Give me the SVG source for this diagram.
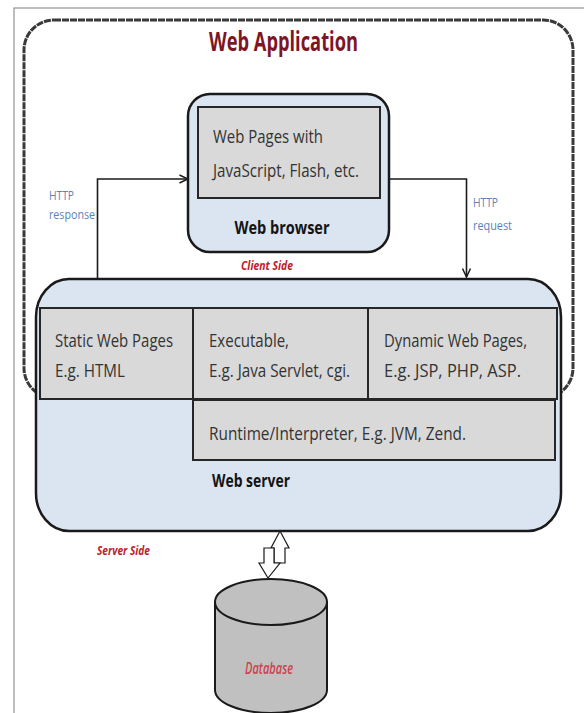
<svg xmlns="http://www.w3.org/2000/svg" width="584" height="713" viewBox="0 0 584 713">
<style>
  .t { font-family: "Open Sans", "Liberation Sans", sans-serif; }
  .cell { fill: #d9d9d9; stroke: #262626; stroke-width: 2; }
  .ctext { font-size: 19px; fill: #333333; }
  .btext { font-size: 18px; font-weight: bold; fill: #141414; }
  .http { font-size: 13px; fill: #5b82b8; }
  .side { font-size: 12.5px; font-style: italic; font-weight: bold; fill: #c0202a; }
  .conn { fill: none; stroke: #1a1a1a; stroke-width: 1.6; }
  .blk { fill: #ffffff; stroke: #1a1a1a; stroke-width: 1.2; }
</style>
<defs>
  <marker id="open" viewBox="0 0 10 10" refX="9.5" refY="5" markerWidth="10" markerHeight="10" markerUnits="userSpaceOnUse" orient="auto">
    <path d="M1,1 L9.5,5 L1,9" fill="none" stroke="#1a1a1a" stroke-width="1.5"/>
  </marker>
</defs>
<rect x="0" y="0" width="584" height="713" fill="#ffffff"/>
<rect id="page-border" x="14" y="8" width="600" height="720" fill="none" stroke="#7f7f7f" stroke-width="1"/>

<g id="web-application">
  <rect x="24" y="20" width="549" height="378" rx="30" ry="30" fill="none" stroke="#3a3a3a" stroke-width="3" stroke-dasharray="7 1"/>
  <text class="t" x="283.5" y="51" text-anchor="middle" font-size="26" font-weight="bold" fill="#7e1525" textLength="149" lengthAdjust="spacingAndGlyphs">Web Application</text>
</g>

<g id="connectors">
  <polyline class="conn" points="97.5,279 97.5,179 188,179" marker-end="url(#open)"/>
  <polyline class="conn" points="389,179 466.5,179 466.5,277" marker-end="url(#open)"/>
</g>

<g id="http-response">
  <text class="t http" x="49" y="200" textLength="25" lengthAdjust="spacingAndGlyphs">HTTP</text>
  <text class="t http" x="49" y="219" textLength="46" lengthAdjust="spacingAndGlyphs">response</text>
</g>
<g id="http-request">
  <text class="t http" x="473" y="207" textLength="25" lengthAdjust="spacingAndGlyphs">HTTP</text>
  <text class="t http" x="473" y="230" textLength="39" lengthAdjust="spacingAndGlyphs">request</text>
</g>

<g id="web-browser">
  <rect x="188" y="94" width="201" height="158" rx="22" ry="22" fill="#dbe5f1" stroke="#1a1a1a" stroke-width="2.5"/>
  <rect class="cell" x="198" y="107" width="182" height="91"/>
  <text class="t ctext" x="213" y="143" textLength="110" lengthAdjust="spacingAndGlyphs">Web Pages with</text>
  <text class="t ctext" x="213" y="177" textLength="146" lengthAdjust="spacingAndGlyphs">JavaScript, Flash, etc.</text>
  <text class="t btext" x="282" y="234" text-anchor="middle" textLength="95" lengthAdjust="spacingAndGlyphs">Web browser</text>
</g>

<g id="client-side">
  <text class="t side" x="267" y="270" text-anchor="middle" textLength="52" lengthAdjust="spacingAndGlyphs">Client Side</text>
</g>

<g id="web-server">
  <rect x="36" y="279" width="525" height="252" rx="33" ry="38" fill="#dbe5f1" stroke="#1a1a1a" stroke-width="2.5"/>
  <g id="static-pages">
    <rect class="cell" x="40" y="308" width="153" height="91"/>
    <text class="t ctext" x="55" y="347" textLength="118" lengthAdjust="spacingAndGlyphs">Static Web Pages</text>
    <text class="t ctext" x="55" y="377" textLength="70" lengthAdjust="spacingAndGlyphs">E.g. HTML</text>
  </g>
  <g id="executable">
    <rect class="cell" x="193" y="308" width="175" height="91"/>
    <text class="t ctext" x="209" y="347" textLength="80" lengthAdjust="spacingAndGlyphs">Executable,</text>
    <text class="t ctext" x="209" y="377" textLength="141" lengthAdjust="spacingAndGlyphs">E.g. Java Servlet, cgi.</text>
  </g>
  <g id="dynamic-pages">
    <rect class="cell" x="368" y="308" width="189" height="91"/>
    <text class="t ctext" x="384" y="347" textLength="143" lengthAdjust="spacingAndGlyphs">Dynamic Web Pages,</text>
    <text class="t ctext" x="384" y="377" textLength="137" lengthAdjust="spacingAndGlyphs">E.g. JSP, PHP, ASP.</text>
  </g>
  <g id="runtime">
    <rect class="cell" x="193" y="400" width="362" height="60" stroke-width="2.5"/>
    <text class="t ctext" x="209" y="440" textLength="257" lengthAdjust="spacingAndGlyphs">Runtime/Interpreter, E.g. JVM, Zend.</text>
  </g>
  <text class="t btext" x="212" y="487" textLength="78" lengthAdjust="spacingAndGlyphs">Web server</text>
</g>

<g id="server-side">
  <text class="t side" x="97" y="555" textLength="53" lengthAdjust="spacingAndGlyphs">Server Side</text>
</g>

<g id="db-link">
  <path class="blk" d="M280,531 L289,548 L285,548 L285,563 L274,563 L274,548 L271,548 Z"/>
  <path class="blk" d="M264,548 L274,548 L274,563 L280,563 L268,578 L259,563 L264,563 Z"/>
</g>

<g id="database">
  <path d="M215,602 L215,690 A56,23 0 0 0 327,690 L327,602 Z" fill="#c0c0c0" stroke="#1a1a1a" stroke-width="2"/>
  <ellipse cx="271" cy="602" rx="56" ry="23" fill="#c0c0c0" stroke="#1a1a1a" stroke-width="2"/>
  <text class="t" x="269" y="674" text-anchor="middle" style="font-size:16px;font-style:italic;font-weight:600;fill:#d0404e" textLength="48" lengthAdjust="spacingAndGlyphs">Database</text>
</g>
</svg>
